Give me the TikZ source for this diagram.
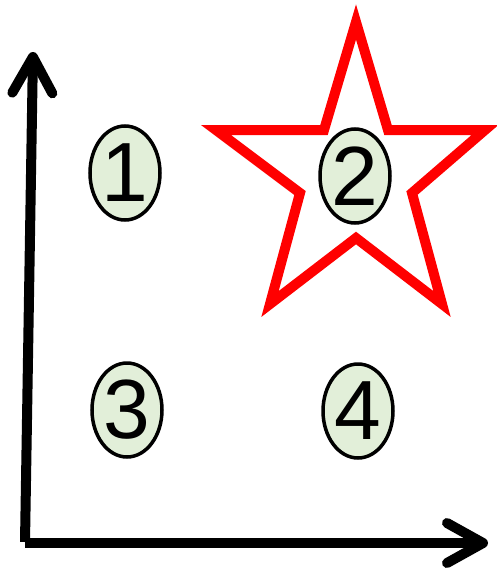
\documentclass[tikz,border=0pt]{standalone}
\usepackage{fontspec}
\setmainfont{Liberation Sans}
\usepackage{tikz}
\usetikzlibrary{arrows.meta, positioning, shapes.geometric}
\usepackage{xcolor}
\definecolor{palegreen}{RGB}{226,239,217}
\definecolor{starred}{RGB}{255,0,0}

\begin{document}
\begin{tikzpicture}[x=1pt, y=-1pt,
    quadrant/.style={ellipse, draw=black, line width=3.5pt, fill=palegreen,
      minimum width=70pt, minimum height=94pt, inner sep=0pt,
      font=\fontsize{84}{84}\selectfont},
    axis/.style={line width=10pt,
      -{Straight Barb[length=36pt, width=40pt, round]}}]
    \useasboundingbox (0,0) rectangle (496,568);
    % star around the second region
    \draw[starred, line width=10pt, line join=miter]
      (356,22) -- (388,130) -- (485,130) -- (412,193) -- (442,304)
      -- (356,238) -- (270,304) -- (300,193) -- (216,130) -- (324,130)
      -- cycle;
    % axes
    \coordinate (origin) at (25,542);
    \coordinate (xend) at (488,543);
    \coordinate (ytop) at (33,52);
    \draw[axis] (origin) -- (ytop);
    \draw[axis] (origin |- xend) -- (xend);
    % regions
    \node[quadrant] (q1) at (125,173) {1};
    \node[quadrant] (q2) at (355,176) {2};
    \node[quadrant] (q3) at (127,410) {3};
    \node[quadrant] (q4) at (358,411) {4};
  \end{tikzpicture}
\end{document}
